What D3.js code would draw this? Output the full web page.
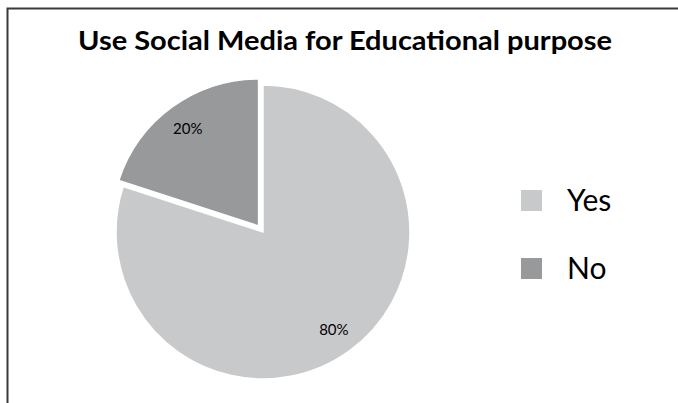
<!DOCTYPE html>
<html>
<head>
<meta charset="utf-8">
<script src="https://cdn.jsdelivr.net/npm/d3@7"></script>
<style>
  html, body { margin: 0; padding: 0; background: #fff; }
  svg { display: block; font-family: Lato, "Open Sans", sans-serif; }
</style>
</head>
<body>
<svg id="chart" width="678" height="403"></svg>
<script>
// Survey answers and their shares
const categories = ["Yes", "No"];
const shares = [80, 20];
const labels = ["80%", "20%"];
const colors = ["#c8c9cb", "#98999b"];
const title = "Use Social Media for Educational purpose";

const svg = d3.select("#chart");
const W = 678, H = 403;

// frame around the chart area
svg.append("path")
  .attr("d", `M7.5,${H} V8.5 H${W}`)
  .attr("fill", "none")
  .attr("stroke", "#3a3a3a")
  .attr("stroke-width", 2);

// title, set in a condensed width
svg.append("text")
  .attr("x", 345).attr("y", 50)
  .attr("text-anchor", "middle")
  .attr("font-weight", "bold")
  .attr("font-size", 27)
  .attr("textLength", 534)
  .attr("lengthAdjust", "spacingAndGlyphs")
  .attr("fill", "#000")
  .text(title);

// pie
const cx = 263, cy = 232, r = 147;
const pie = d3.pie().sort(null).value(d => d.v);
const arcs = pie(categories.map((c, i) => ({ c, v: shares[i], label: labels[i], color: colors[i] })));
const arc = d3.arc().innerRadius(0).outerRadius(r);
const labelArc = d3.arc().innerRadius(r * 0.82).outerRadius(r * 0.82);

const g = svg.append("g").attr("transform", `translate(${cx},${cy})`);

// the smaller slice is pulled out along its bisector
const explode = { "No": 7.5 };

const slices = g.selectAll("g.slice").data(arcs).join("g")
  .attr("class", "slice")
  .attr("transform", d => {
    const e = explode[d.data.c] || 0;
    const a = (d.startAngle + d.endAngle) / 2;
    return `translate(${e * Math.sin(a)},${-e * Math.cos(a)})`;
  });

slices.append("path")
  .attr("d", arc)
  .attr("fill", d => d.data.color)
  .attr("stroke", "#fff")
  .attr("stroke-width", 1.5)
  .attr("stroke-linejoin", "round");

slices.append("text")
  .attr("transform", d => {
    const [x, y] = labelArc.centroid(d);
    return `translate(${x},${y})`;
  })
  .attr("text-anchor", "middle")
  .attr("dy", "0.35em")
  .attr("font-size", 15)
  .attr("fill", "#000")
  .text(d => d.data.label);

// legend
const legend = svg.append("g").attr("transform", "translate(521,190)");
const item = legend.selectAll("g").data(categories).join("g")
  .attr("transform", (d, i) => `translate(0,${i * 68})`);
item.append("rect")
  .attr("width", 21).attr("height", 21)
  .attr("fill", (d, i) => colors[i]);
item.append("text")
  .attr("x", 46).attr("y", 20.5)
  .attr("font-size", 30)
  .attr("fill", "#000")
  .text(d => d);
</script>
</body>
</html>
